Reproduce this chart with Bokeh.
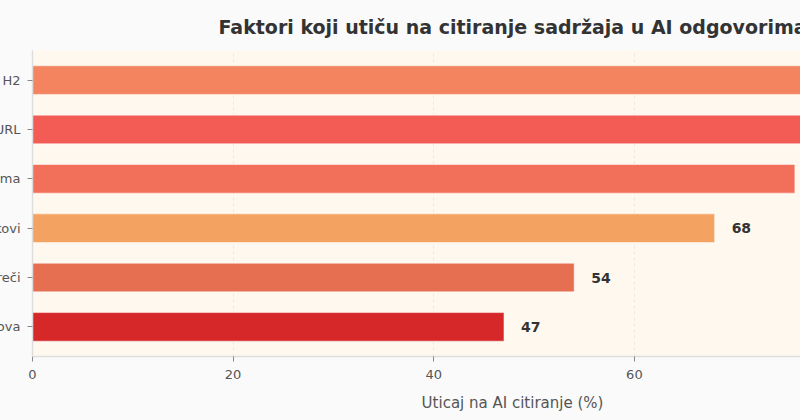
from bokeh.core.properties import value
from bokeh.embed import file_html
from bokeh.layouts import column
from bokeh.models import ColumnDataSource, FixedTicker, SingleIntervalTicker
from bokeh.plotting import figure
from bokeh.resources import INLINE

# bottom -> top, as drawn
factors = [
    "Broj povratnih linkova",
    "Ključne reči",
    "Numerisani spiskovi",
    "Sadržaj sa primerima",
    "Kratak i opisan URL",
    "Naslovi H1 i H2",
]
impact = [47, 54, 68, 76, 82, 89]
colors = ["#d62828", "#e76f51", "#f4a261", "#f27059", "#f25c54", "#f4845f"]

FONT = "DejaVu Sans"

pos = list(range(len(factors)))
src = ColumnDataSource(data=dict(
    y=pos,
    impact=impact,
    color=colors,
    label=[str(v) for v in impact],
))

# the chart is wider than the window: its left labels and right end are cut
p = figure(
    width=1240, height=420,
    width_policy="fixed", height_policy="fixed",
    x_range=(0, 95.7), y_range=(-0.6, len(factors) - 0.4),
    output_backend="svg", toolbar_location=None,
    min_border_left=260, min_border_right=20,
    min_border_top=47, min_border_bottom=64,
    margin=(0, 0, 0, -228),
    background_fill_color="#fff8ef", border_fill_color="#fafafa",
    outline_line_color=None,
)

p.title.text = "Faktori koji utiču na citiranje sadržaja u AI odgovorima"
p.title.align = "center"
p.title.text_font = FONT
p.title.text_font_size = "19px"
p.title.text_font_style = "bold"
p.title.text_color = "#333333"
p.title.standoff = 26

p.hbar(y="y", right="impact", height=0.58, color="color", source=src,
       line_color="white", line_alpha=0.5, line_width=1)
p.text(x="impact", y="y", text="label", source=src, x_offset=17,
       text_baseline="middle", text_font=value(FONT), text_font_style="bold",
       text_font_size="14px", text_color="#333333")

p.xaxis.ticker = SingleIntervalTicker(interval=20)
p.yaxis.ticker = FixedTicker(ticks=pos)
p.yaxis.major_label_overrides = {i: f for i, f in zip(pos, factors)}

for ax in (p.xaxis[0], p.yaxis[0]):
    ax.axis_line_color = "#dddddd"
    ax.axis_line_width = 1.5
    ax.major_tick_line_color = "#888888"
    ax.major_tick_out = 5
    ax.major_tick_in = 0
    ax.minor_tick_line_color = None
    ax.major_label_text_font = FONT
    ax.major_label_text_font_size = "13px"
    ax.major_label_text_color = "#555555"
    ax.major_label_standoff = 7
p.xaxis.major_label_standoff = 8

p.xaxis.axis_label = "Uticaj na AI citiranje (%)"
p.xaxis.axis_label_text_font = FONT
p.xaxis.axis_label_text_font_size = "15px"
p.xaxis.axis_label_text_font_style = "normal"
p.xaxis.axis_label_text_color = "#555555"
p.xaxis.axis_label_standoff = 12

p.xgrid.grid_line_color = "#cccccc"
p.xgrid.grid_line_alpha = 0.35
p.xgrid.grid_line_dash = "3 3"
p.ygrid.grid_line_color = None

page = column(p, width=800, height=420, width_policy="fixed", height_policy="fixed",
              styles={"overflow": "hidden", "background-color": "#fafafa"})

open("out.html", "w").write(file_html(page, INLINE))
